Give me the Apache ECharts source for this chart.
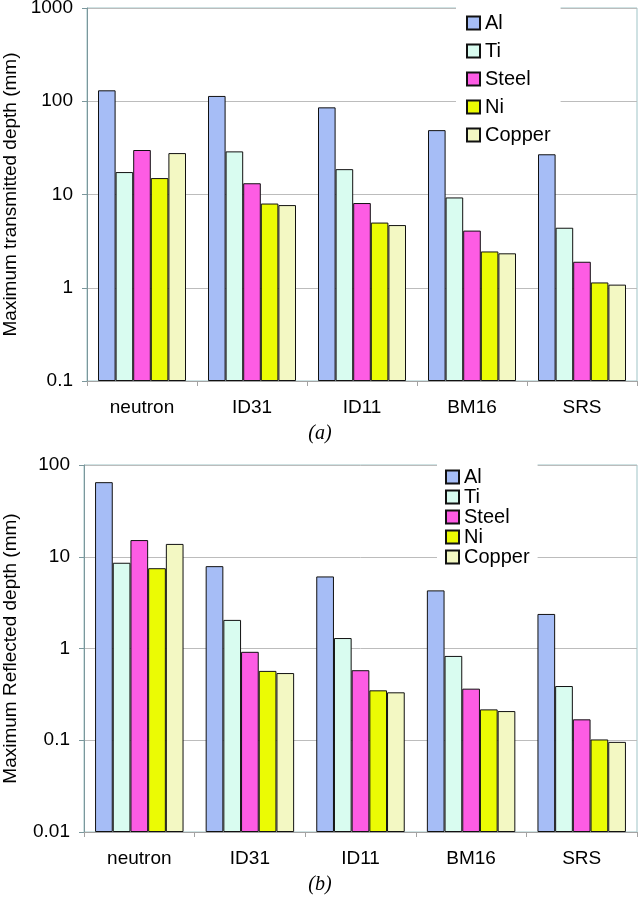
<!DOCTYPE html>
<html>
<head>
<meta charset="utf-8">
<script src="https://cdn.jsdelivr.net/npm/echarts@6/dist/echarts.min.js"></script>
<style>
  html, body { margin: 0; padding: 0; background: #fff; }
  #chart { width: 640px; height: 901px; }
</style>
</head>
<body>
<div id="chart"></div>
<script>
// categories + legend
const categories = ['neutron', 'ID31', 'ID11', 'BM16', 'SRS']
const materials = ['Al', 'Ti', 'Steel', 'Ni', 'Copper']
const colors = ['#a6bdf6', '#d9fcf0', '#fd5ce4', '#ebfb04', '#f3f8c3']

// (a) transmitted depth, mm
const transAl = [131, 114, 86, 49, 27]
const transTi = [17.4, 29, 18.7, 9.3, 4.4]
const transSteel = [30, 13.2, 8.1, 4.1, 1.9]
const transNi = [15, 8.0, 5.0, 2.45, 1.14]
const transCopper = [27.8, 7.7, 4.7, 2.34, 1.08]

// (b) reflected depth, mm
const reflAl = [65, 7.9, 6.1, 4.3, 2.38]
const reflTi = [8.6, 2.05, 1.3, 0.83, 0.39]
const reflSteel = [15.2, 0.92, 0.58, 0.365, 0.169]
const reflNi = [7.5, 0.57, 0.35, 0.217, 0.102]
const reflCopper = [13.8, 0.54, 0.333, 0.208, 0.096]

const transData = [transAl, transTi, transSteel, transNi, transCopper]
const reflData = [reflAl, reflTi, reflSteel, reflNi, reflCopper]

const font = 'Liberation Sans, Arial, sans-serif'

function makeSeries (data, idx) {
  return data.map((vals, i) => ({
    name: materials[i],
    type: 'bar',
    xAxisIndex: idx,
    yAxisIndex: idx,
    barGap: '0%',
    barCategoryGap: '20%',
    itemStyle: { color: colors[i], borderColor: '#111', borderWidth: 1 },
    data: vals
  }))
}

function xAxisOf (idx) {
  return {
    type: 'category',
    gridIndex: idx,
    data: categories,
    axisLine: { lineStyle: { color: '#a3a3a3', width: 1 } },
    axisTick: { show: true, length: 5, lineStyle: { color: '#a3a3a3' } },
    axisLabel: { color: '#000', fontSize: 19, fontFamily: font, margin: 17 }
  }
}

function yAxisOf (idx, min, max, name) {
  return {
    type: 'log',
    logBase: 10,
    gridIndex: idx,
    min: min,
    max: max,
    startValue: min,
    name: name,
    nameLocation: 'middle',
    nameGap: 64,
    nameTextStyle: { color: '#000', fontSize: 19, fontFamily: font },
    axisLine: { show: true, lineStyle: { color: '#7b979c', width: 1 } },
    axisTick: { show: true, length: 5, lineStyle: { color: '#7b979c' } },
    axisLabel: {
      color: '#000', fontSize: 19, fontFamily: font, margin: 14,
      formatter: v => String(+Number(v).toPrecision(3))
    },
    splitLine: { show: true, lineStyle: { color: '#bcbcbc', width: 1 } }
  }
}

const chart = echarts.init(document.getElementById('chart'))
const option = {
  animation: false,
  color: colors,
  grid: [
    { left: 87, right: 3, top: 8, height: 373, outerBoundsMode: 'none', show: true, borderColor: '#9fc4c7', borderWidth: 1, backgroundColor: '#fff' },
    { left: 84, right: 3, top: 465, height: 367, outerBoundsMode: 'none', show: true, borderColor: '#9fc4c7', borderWidth: 1, backgroundColor: '#fff' }
  ],
  legend: [
    {
      data: materials,
      orient: 'vertical',
      left: 456,
      top: 3,
      padding: [10, 10, 3, 10],
      itemWidth: 13,
      itemHeight: 13,
      itemGap: 8,
      icon: 'rect',
      backgroundColor: '#fff',
      textStyle: { color: '#000', fontSize: 20, fontFamily: font },
      selectedMode: false
    },
    {
      data: materials,
      orient: 'vertical',
      left: 437,
      top: 459,
      padding: [8, 8, 6, 8],
      itemWidth: 13,
      itemHeight: 13,
      itemGap: 0,
      icon: 'rect',
      backgroundColor: '#fff',
      textStyle: { color: '#000', fontSize: 20, fontFamily: font },
      selectedMode: false
    }
  ],
  xAxis: [xAxisOf(0), xAxisOf(1)],
  yAxis: [
    yAxisOf(0, 0.1, 1000, 'Maximum transmitted depth (mm)'),
    yAxisOf(1, 0.01, 100, 'Maximum Reflected depth (mm)')
  ],
  graphic: [
    { type: 'text', left: 'center', top: 424, style: { text: '(a)', fill: '#000', font: 'italic 20px "Liberation Serif", serif' } },
    { type: 'text', left: 'center', top: 875, style: { text: '(b)', fill: '#000', font: 'italic 20px "Liberation Serif", serif' } }
  ],
  series: makeSeries(transData, 0).concat(makeSeries(reflData, 1))
}
chart.setOption(option)
</script>
</body>
</html>
